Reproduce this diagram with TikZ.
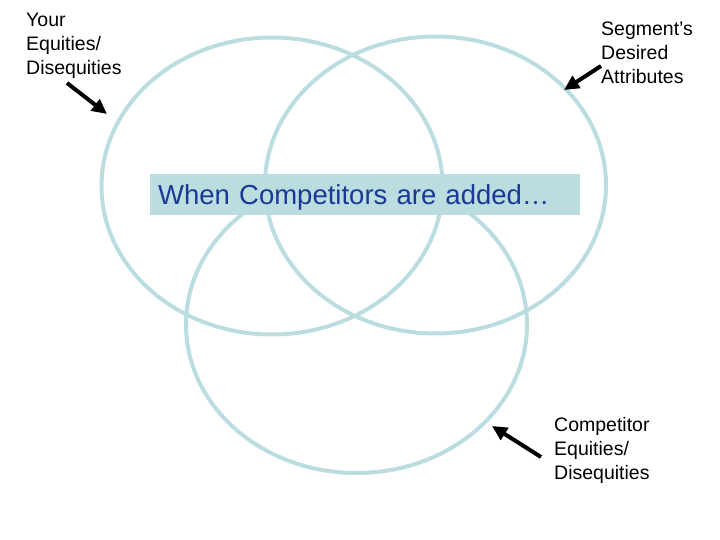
\documentclass[tikz,border=0pt]{standalone}
\usepackage{fontspec}
\setmainfont{Liberation Sans}
\usepackage{xcolor}
\usetikzlibrary{arrows.meta, positioning, shapes.geometric}

\definecolor{ringblue}{RGB}{187,221,224}
\definecolor{titleblue}{RGB}{28,56,150}

\begin{document}
\begin{tikzpicture}[
    x=1pt, y=-1pt,
    ring/.style={ellipse, draw=ringblue, line width=4pt,
                 minimum width=341pt, minimum height=297pt, inner sep=0pt},
    lbl/.style={anchor=north west, align=left, inner sep=0pt,
                font=\fontsize{19.5}{24}\selectfont},
    arr/.style={-{Triangle[length=15pt, width=14pt]}, line width=4pt, black},
  ]
    \useasboundingbox (0,0) rectangle (720,540);

    % the three sets
    \node[ring] (you)   at (272,186) {};
    \node[ring] (seg)   at (435.5,185) {};
    \node[ring] (comp)  at (356.5,324.5) {};

    % banner
    \node[anchor=west, fill=ringblue, text=titleblue,
          minimum height=41pt, text width=414pt, inner xsep=8pt,
          text height=24pt, text depth=3pt,
          align=left, font=\fontsize{27.5}{30}\selectfont]
          (added) at (150,194.5) {When Competitors are added…};

    % labels
    \node[lbl] (youlbl)  at (26,13)   {Your\\Equities/\\Disequities};
    \node[lbl] (seglbl)  at (601,22)  {Segment’s\\Desired\\Attributes};
    \node[lbl] (complbl) at (554,417) {Competitor\\Equities/\\Disequities};

    % pointers
    \coordinate (youtail)  at (67,83);
    \coordinate (youtip)   at (107,114);
    \coordinate (segtail)  at (601,66);
    \coordinate (segtip)   at (564,90);
    \coordinate (comptail) at (541,457);
    \coordinate (comptip)  at (492,426);

    \draw[arr] (youtail)  -- (youtip);
    \draw[arr] (segtail)  -- (segtip);
    \draw[arr] (comptail) -- (comptip);
\end{tikzpicture}
\end{document}
